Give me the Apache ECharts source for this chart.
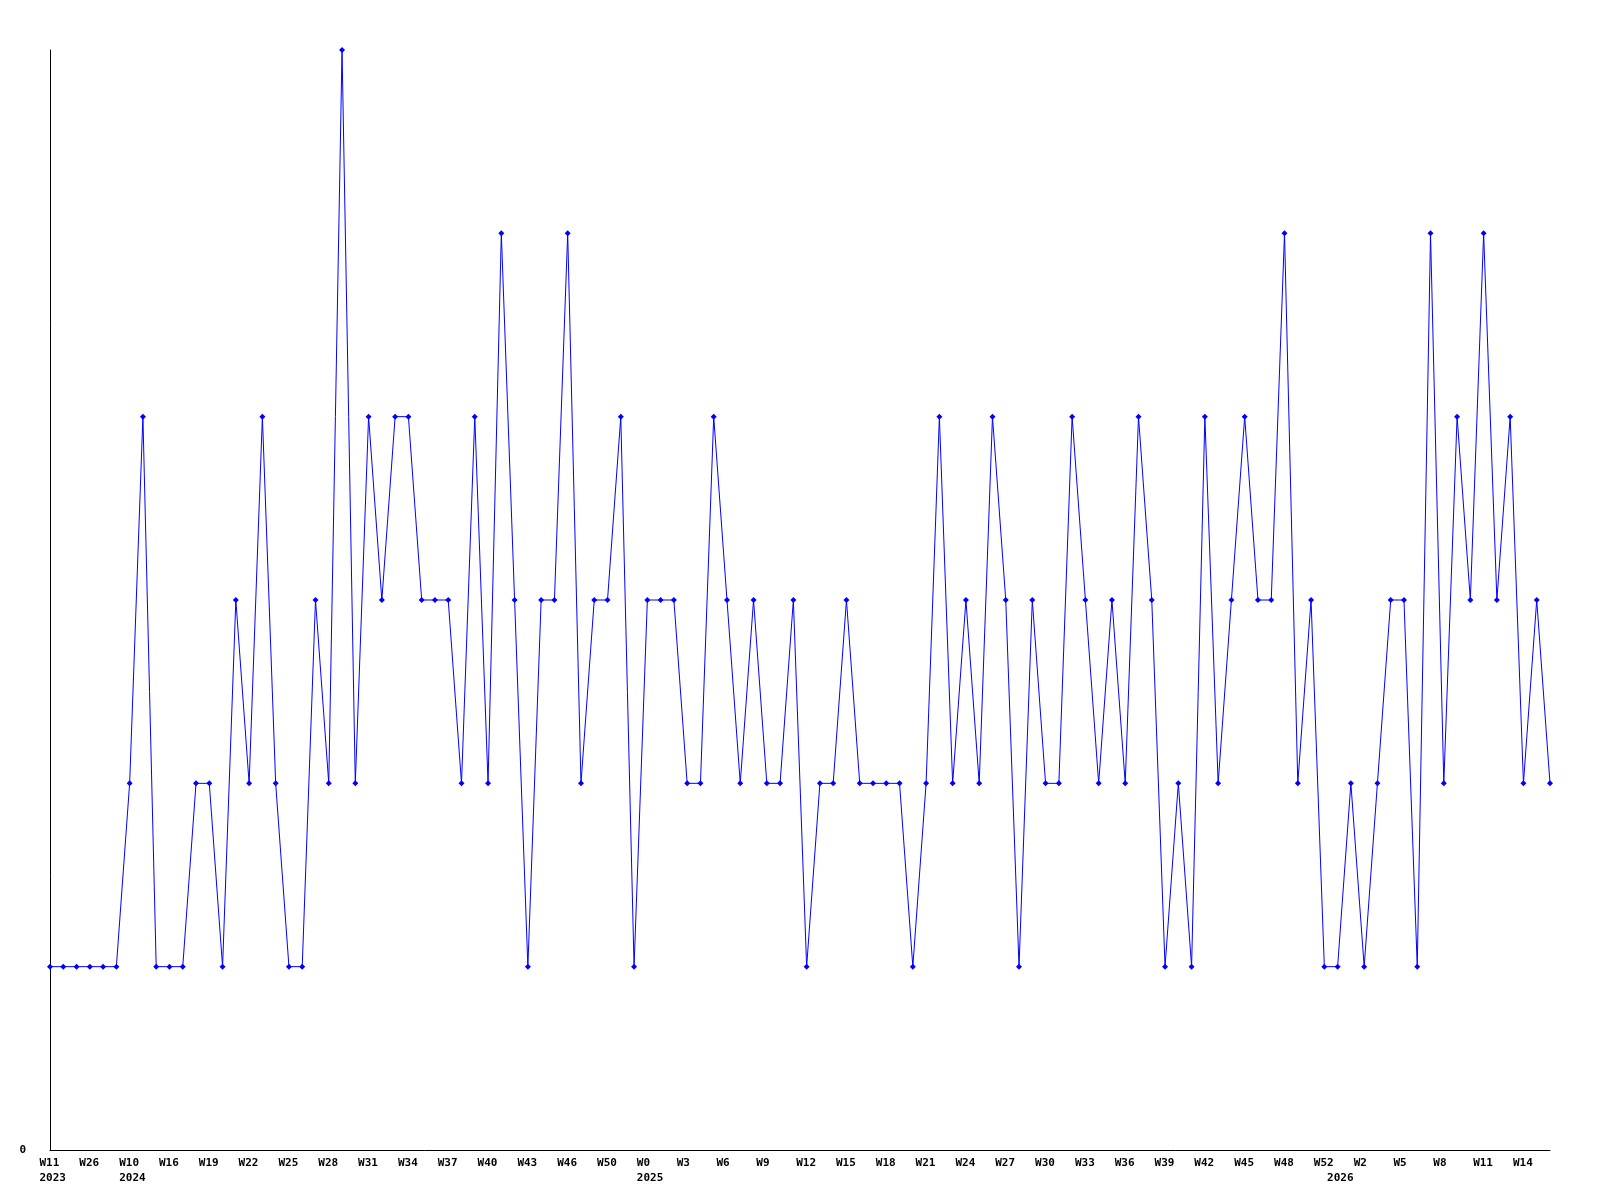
<!DOCTYPE html>
<html>
<head>
<meta charset="utf-8">
<script src="https://cdn.jsdelivr.net/npm/echarts@6/dist/echarts.min.js"></script>
<style>
html,body{margin:0;padding:0;background:#fff;}
#c{width:1600px;height:1200px;}
</style>
</head>
<body>
<div id="c"></div>
<script>
// Week categories (year-week)
const categories = [
  '2023-W11','2023-W15','2023-W20','2023-W26','2023-W33','2023-W45',
  '2024-W10','2024-W12','2024-W14','2024-W16','2024-W17','2024-W18','2024-W19','2024-W20','2024-W21','2024-W22',
  '2024-W23','2024-W24','2024-W25','2024-W26','2024-W27','2024-W28','2024-W29','2024-W30','2024-W31','2024-W32',
  '2024-W33','2024-W34','2024-W35','2024-W36','2024-W37','2024-W38','2024-W39','2024-W40','2024-W41','2024-W42',
  '2024-W43','2024-W44','2024-W45','2024-W46','2024-W47','2024-W49','2024-W50','2024-W51','2024-W52',
  '2025-W0','2025-W1','2025-W2','2025-W3','2025-W4','2025-W5','2025-W6','2025-W7','2025-W8','2025-W9',
  '2025-W10','2025-W11','2025-W12','2025-W13','2025-W14','2025-W15','2025-W16','2025-W17','2025-W18','2025-W19',
  '2025-W20','2025-W21','2025-W22','2025-W23','2025-W24','2025-W25','2025-W26','2025-W27','2025-W28','2025-W29',
  '2025-W30','2025-W31','2025-W32','2025-W33','2025-W34','2025-W35','2025-W36','2025-W37','2025-W38','2025-W39',
  '2025-W40','2025-W41','2025-W42','2025-W43','2025-W44','2025-W45','2025-W46','2025-W47','2025-W48','2025-W49',
  '2025-W51','2025-W52',
  '2026-W0','2026-W1','2026-W2','2026-W3','2026-W4','2026-W5','2026-W6','2026-W7','2026-W8','2026-W9',
  '2026-W10','2026-W11','2026-W12','2026-W13','2026-W14','2026-W15','2026-W16'
];

const values = [
  1,1,1,1,1,1,2,4,1,1,
  1,2,2,1,3,2,4,2,1,1,
  3,2,6,2,4,3,4,4,3,3,
  3,2,4,2,5,3,1,3,3,5,
  2,3,3,4,1,3,3,3,2,2,
  4,3,2,3,2,2,3,1,2,2,
  3,2,2,2,2,1,2,4,2,3,
  2,4,3,1,3,2,2,4,3,2,
  3,2,4,3,1,2,1,4,2,3,
  4,3,3,5,2,3,1,1,2,1,
  2,3,3,1,5,2,4,3,5,3,
  4,2,3,2
];

const yTicks = [0];

const FONT = '"DejaVu Sans Mono", "Liberation Mono", monospace';
const yearOf = i => categories[i].split('-')[0];
const weekOf = i => categories[i].split('-')[1];
const isYearStart = i => i === 0 || yearOf(i) !== yearOf(i - 1);

const chart = echarts.init(document.getElementById('c'), null, {renderer: 'canvas'});
chart.setOption({
  animation: false,
  backgroundColor: '#ffffff',
  grid: {left: 50, right: 50, top: 50, bottom: 50, containLabel: false},
  xAxis: {
    type: 'category',
    data: categories,
    boundaryGap: false,
    axisLine: {show: true, lineStyle: {color: '#000', width: 1}},
    axisTick: {show: false},
    splitLine: {show: false},
    axisLabel: {
      interval: (i) => i % 3 === 0 || isYearStart(i),
      margin: 6,
      formatter: (v, i) => {
        const w = (i % 3 === 0) ? weekOf(i) : ' ';
        const y = isYearStart(i) ? yearOf(i) : ' ';
        return '{w|' + w + '}\n{y|' + y + '}';
      },
      rich: {
        w: {fontFamily: FONT, fontWeight: 'bold', fontSize: 11, color: '#000', width: 21, align: 'left', lineHeight: 15},
        y: {fontFamily: FONT, fontWeight: 'bold', fontSize: 11, color: '#000', width: 21, align: 'left', lineHeight: 15}
      }
    }
  },
  yAxis: {
    type: 'value',
    min: 0,
    max: 6,
    interval: 6,
    axisLine: {show: true, lineStyle: {color: '#000', width: 1}},
    axisTick: {show: false},
    splitLine: {show: false},
    axisLabel: {
      margin: 24,
      fontFamily: FONT, fontWeight: 'bold', fontSize: 11, color: '#000',
      formatter: v => yTicks.includes(v) ? String(v) : ''
    }
  },
  series: [{
    type: 'line',
    data: values,
    symbol: 'diamond',
    symbolSize: 6,
    showAllSymbol: true,
    lineStyle: {color: '#0000ff', width: 1},
    itemStyle: {color: '#0000ff'},
    emphasis: {disabled: true}
  }]
});
</script>
</body>
</html>
